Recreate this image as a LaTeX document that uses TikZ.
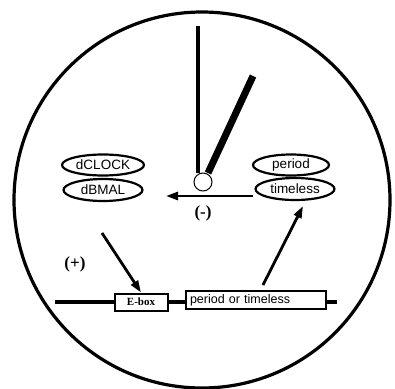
\documentclass[tikz,border=0pt]{standalone}
\usepackage{fontspec}
\setmainfont{Liberation Serif}
\setsansfont{Liberation Sans}
\usetikzlibrary{shapes.geometric,arrows.meta}
\begin{document}
\begin{tikzpicture}[x=1pt,y=-1pt,
  gene/.style={ellipse,draw,line width=2.2pt,inner sep=0pt,font=\sffamily\fontsize{13.5}{13.5}\selectfont},
  arr/.style={line width=2.8pt,-{Triangle[length=12pt,width=8pt]}},
  sign/.style={font=\bfseries\fontsize{17}{17}\selectfont,inner sep=0pt}]
\useasboundingbox (0,0) rectangle (395,388);
\draw[line width=3.2pt] (202,200) circle (188);
% hands
\node[circle,draw,line width=1pt,fill=white,minimum size=18pt,inner sep=0pt] (piv) at (203,182) {};
\coordinate (minT) at (198,26);
\coordinate (hrT) at (253,76);
\draw[line width=3.2pt] (minT) -- (piv.north -| minT);
\draw[line width=7pt] (hrT) -- (208,173);
% ellipses
\node[gene,minimum width=82pt,minimum height=21pt] (clk) at (103,165) {dCLOCK};
\node[gene,minimum width=79pt,minimum height=22pt] (bmal) at (103,190) {dBMAL};
\node[gene,minimum width=76pt,minimum height=21pt] (per) at (291,165) {period};
\node[gene,minimum width=79pt,minimum height=22pt] (tim) at (295,189) {timeless};
% signs
\node[sign] (minus) at (203,213) {(-)};
\node[sign] (plus) at (75,264) {(+)};
% DNA
\coordinate (dnaL) at (55,302);
\coordinate (dnaR) at (337,302);
\draw[line width=4pt] (dnaL) -- (dnaR);
\node[draw,line width=2pt,fill=white,minimum width=53pt,minimum height=17pt,inner sep=0pt,font=\bfseries\fontsize{11}{11}\selectfont] (ebox) at (141,302) {E-box};
\node[draw,line width=1.6pt,fill=white,minimum width=140pt,minimum height=18pt,inner sep=0pt,font=\sffamily\fontsize{12.5}{12.5}\selectfont,text width=132pt,align=left] (pt) at (256,300) {period or timeless};
% arrows
\coordinate (a1s) at (253,196);
\coordinate (a1e) at (166,196);
\draw[arr] (a1s) -- (a1e);
\coordinate (a2s) at (102,233);
\draw[arr] (a2s) -- (ebox.north);
\coordinate (a3s) at (263,285);
\coordinate (a3e) at (303,206);
\draw[arr] (a3s) -- (a3e);
\end{tikzpicture}
\end{document}
